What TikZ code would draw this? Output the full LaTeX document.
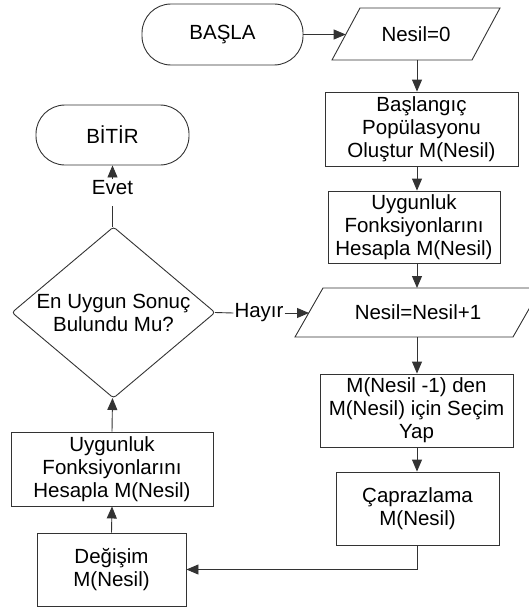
\documentclass[tikz,border=0pt]{standalone}
\usepackage{fontspec}
\setmainfont{Liberation Sans}
\usetikzlibrary{arrows.meta}
\newcommand{\fsz}{\fontsize{20.5}{23}\selectfont}
\tikzset{
  ln/.style={draw=black!80, line width=0.9pt},
  box/.style={ln, rectangle, align=center, inner sep=0pt, font=\fsz},
  term/.style={ln, rectangle, rounded corners=29pt, align=center, inner sep=0pt, font=\fsz},
  txt/.style={align=center, inner sep=0pt, font=\fsz},
  lbl/.style={inner sep=1pt, font=\fsz},
  arr/.style={ln, -{Triangle[length=12pt,width=10pt]}},
}
\begin{document}
\begin{tikzpicture}[x=1pt,y=-1pt]
\useasboundingbox (0,0) rectangle (529,610);
% column x for right-hand arrows
\coordinate (cx) at (417,0);

% start
\node[term, minimum width=161pt, minimum height=61pt] (start) at (222.5,34.5) {BAŞLA};

% Nesil=0 parallelogram
\draw[ln] (360,8) -- (500,8) -- (472,60) -- (332,60) -- cycle;
\node[txt] (n0) at (416,34) {Nesil=0};
\coordinate (n0L) at (345.7,34.5);
\coordinate (n0B) at (417,60);

% boxes right column
\node[box, minimum width=193pt, minimum height=74pt] (b1) at (421.5,129) {Başlangıç\\Popülasyonu\\Oluştur M(Nesil)};
\node[box, minimum width=172pt, minimum height=72pt] (b2) at (414,227) {Uygunluk\\Fonksiyonlarını\\Hesapla M(Nesil)};

% Nesil=Nesil+1 parallelogram
\draw[ln] (323,288) -- (541,288) -- (513,337) -- (295,337) -- cycle;
\node[txt] (n1) at (418,312.5) {Nesil=Nesil+1};
\coordinate (n1T) at (417,288);
\coordinate (n1B) at (417,337);
\coordinate (n1L) at (309,313);

\node[box, minimum width=193pt, minimum height=73pt] (b3) at (416.5,410.5) {M(Nesil -1) den\\M(Nesil) için Seçim\\Yap};
\node[box, minimum width=163pt, minimum height=73pt] (b4) at (417.5,508.5) {Çaprazlama\\M(Nesil)};

% left column
\node[term, minimum width=153pt, minimum height=60pt] (bitir) at (112.5,135) {BİTİR};
\draw[ln, rounded corners=3pt] (113.5,227) -- (215,312.5) -- (113.5,398) -- (12,312.5) -- cycle;
\node[txt] (dq) at (113.5,312.5) {En Uygun Sonuç\\Bulundu Mu?};
\coordinate (dN) at (112.5,227);
\coordinate (dS) at (112.5,398);
\coordinate (dE) at (215,312.5);
\node[box, minimum width=202pt, minimum height=74pt] (u) at (112,469) {Uygunluk\\Fonksiyonlarını\\Hesapla M(Nesil)};
\node[box, minimum width=149pt, minimum height=73pt] (d) at (111.5,569.5) {Değişim\\M(Nesil)};

% labels
\node[lbl] (evet) at (112.5,187.5) {Evet};
\coordinate (evetS) at (112.5,206);
\node[lbl] (hayir) at (259,313) {Hayır};

% connectors
\draw[arr] (start.east) -- (n0L);
\draw[arr] (n0B) -- (n0B |- b1.north);
\draw[arr] (b1.south -| cx) -- (b2.north -| cx);
\draw[arr] (b2.south -| cx) -- (n1T);
\draw[arr] (n1B) -- (b3.north -| cx);
\draw[arr] (b3.south -| cx) -- (b4.north -| cx);
\draw[arr] (b4.south -| cx) |- (d.east);
\draw[arr] (d.north) -- (u.south);
\draw[arr] (u.north) -- (dS);
\draw[ln] (dE) -- (hayir.west);
\draw[arr] (hayir.east) -- (n1L);
\draw[ln] (dN) -- (evetS);
\draw[arr] (evet.north) -- (bitir.south);
\end{tikzpicture}
\end{document}
